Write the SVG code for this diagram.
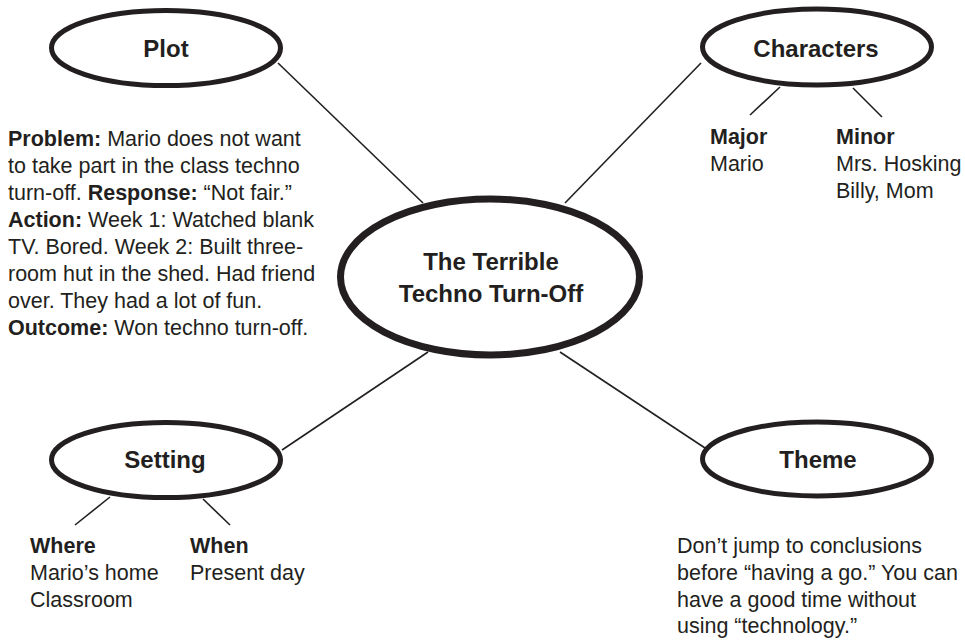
<svg xmlns="http://www.w3.org/2000/svg" width="965" height="640" viewBox="0 0 965 640">
<style>
.bg{fill:#ffffff}
.node{fill:#ffffff;stroke:#231f20;stroke-width:5}
.main{fill:#ffffff;stroke:#231f20;stroke-width:7}
.conn line{stroke:#231f20;stroke-width:1.6;fill:none}
.title{font-family:"Liberation Sans",Arial,sans-serif;font-weight:bold;font-size:24px;fill:#231f20;text-anchor:middle}
.body{font-family:"Liberation Sans",Arial,sans-serif;font-size:21.5px;fill:#231f20}
.b{font-weight:bold}
</style>
<rect class="bg" x="0" y="0" width="965" height="640"/>
<g id="connectors" class="conn">
  <line x1="278" y1="63" x2="423" y2="203"/>
  <line x1="701" y1="63" x2="565" y2="203"/>
  <line x1="428" y1="352" x2="282" y2="450"/>
  <line x1="560" y1="352" x2="705" y2="448"/>
  <line x1="780" y1="87" x2="750" y2="115"/>
  <line x1="853" y1="88" x2="882" y2="117"/>
  <line x1="110" y1="497" x2="75" y2="525"/>
  <line x1="203" y1="499" x2="230" y2="525"/>
</g>
<g id="center">
  <ellipse class="main" cx="490" cy="277" rx="149.5" ry="78"/>
  <text class="title" x="491" y="270">The Terrible</text>
  <text class="title" x="491" y="302">Techno Turn-Off</text>
</g>
<g id="plot">
  <ellipse class="node" cx="166" cy="48" rx="114.5" ry="37.5"/>
  <text class="title" x="166" y="57">Plot</text>
  <text class="body" x="8" y="146"><tspan class="b">Problem:</tspan> Mario does not want</text>
  <text class="body" x="8" y="173">to take part in the class techno</text>
  <text class="body" x="8" y="200">turn-off. <tspan class="b">Response:</tspan> “Not fair.”</text>
  <text class="body" x="8" y="227"><tspan class="b">Action:</tspan> Week 1: Watched blank</text>
  <text class="body" x="8" y="254">TV. Bored. Week 2: Built three-</text>
  <text class="body" x="8" y="281">room hut in the shed. Had friend</text>
  <text class="body" x="8" y="308">over. They had a lot of fun.</text>
  <text class="body" x="8" y="335"><tspan class="b">Outcome:</tspan> Won techno turn-off.</text>
</g>
<g id="characters">
  <ellipse class="node" cx="817" cy="47" rx="114.5" ry="38"/>
  <text class="title" x="816" y="57">Characters</text>
  <text class="body b" x="710" y="144">Major</text>
  <text class="body" x="710" y="171">Mario</text>
  <text class="body b" x="836" y="144">Minor</text>
  <text class="body" x="836" y="171">Mrs. Hosking</text>
  <text class="body" x="836" y="198">Billy, Mom</text>
</g>
<g id="setting">
  <ellipse class="node" cx="166" cy="460" rx="114.5" ry="37.5"/>
  <text class="title" x="165" y="468">Setting</text>
  <text class="body b" x="30" y="553">Where</text>
  <text class="body" x="30" y="580">Mario’s home</text>
  <text class="body" x="30" y="607">Classroom</text>
  <text class="body b" x="190" y="553">When</text>
  <text class="body" x="190" y="580">Present day</text>
</g>
<g id="theme">
  <ellipse class="node" cx="817" cy="459" rx="114.5" ry="37"/>
  <text class="title" x="818" y="468">Theme</text>
  <text class="body" x="677" y="553">Don’t jump to conclusions</text>
  <text class="body" x="677" y="580">before “having a go.” You can</text>
  <text class="body" x="677" y="607">have a good time without</text>
  <text class="body" x="677" y="633">using “technology.”</text>
</g>
</svg>
